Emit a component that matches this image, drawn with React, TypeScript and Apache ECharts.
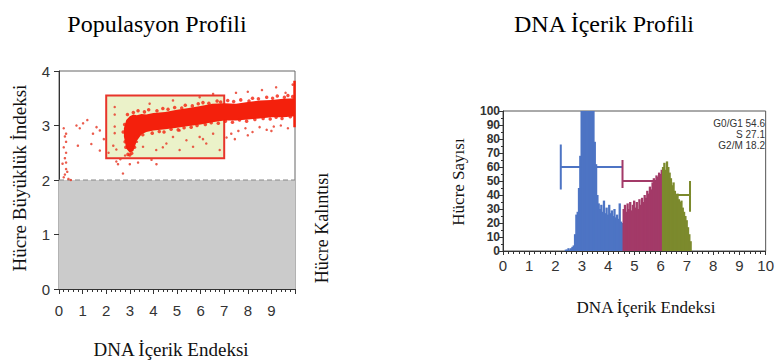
import React, { useEffect, useRef } from "react";
import * as echarts from "echarts";

// ---------- Texts ----------
const TITLE_LEFT = "Populasyon Profili";
const TITLE_RIGHT = "DNA İçerik Profili";
const X_NAME = "DNA İçerik Endeksi";
const Y_NAME_LEFT = "Hücre Büyüklük İndeksi";
const Y_NAME_RIGHT = "Hücre Sayısı";
const DEBRIS_LABEL = "Hücre Kalıntısı";
const PHASE_LABELS = ["G0/G1 54.6", "S 27.1", "G2/M 18.2"];

// ---------- Left panel (population scatter) ----------
const debrisX = [0, 10];
const debrisY = [0, 2];
const gateX = [2, 7];
const gateY = [2.4, 3.55];

// dense cell band: x, upper edge, lower edge
const bandX = [2.75, 2.85, 3.0, 3.15, 3.3, 3.5, 3.7, 4.0, 4.5, 5.0, 5.5, 6.0, 6.5, 7.0, 7.5, 8.0, 8.5, 9.0, 9.5, 10];
const bandTop = [2.95, 3.1, 3.17, 3.2, 3.19, 3.21, 3.2, 3.23, 3.25, 3.29, 3.32, 3.36, 3.4, 3.41, 3.4, 3.43, 3.46, 3.47, 3.49, 3.5];
const bandBot = [2.8, 2.58, 2.5, 2.53, 2.72, 2.84, 2.88, 2.91, 2.93, 2.96, 2.99, 3.02, 3.06, 3.09, 3.09, 3.11, 3.13, 3.15, 3.15, 3.17];

// ragged edge points of the band
const fuzzX = [2.9, 3.15, 3.35, 3.62, 3.8, 4.15, 4.4, 4.62, 4.9, 5.2, 5.35, 5.65, 5.9, 6.1, 6.35, 6.7, 6.85, 7.15, 7.4, 7.7, 8.05, 8.2, 8.45, 8.8, 9.05, 9.25, 9.55, 9.7, 9.9,
  3.25, 3.55, 3.95, 4.25, 4.45, 4.75, 5.05, 5.3, 5.6, 5.85, 6.2, 6.45, 6.75, 7.05, 7.35, 7.65, 7.95, 8.3, 8.65, 8.95, 9.2, 9.45, 9.8, 2.92, 3.08, 2.83, 2.72, 2.78, 3.0, 3.2, 2.8];
const fuzzY = [3.2, 3.24, 3.27, 3.25, 3.29, 3.27, 3.31, 3.3, 3.33, 3.32, 3.37, 3.36, 3.4, 3.42, 3.41, 3.45, 3.43, 3.46, 3.44, 3.47, 3.45, 3.5, 3.49, 3.52, 3.5, 3.54, 3.52, 3.55, 3.53,
  2.79, 2.83, 2.86, 2.89, 2.88, 2.93, 2.92, 2.96, 2.97, 3.0, 3.02, 3.05, 3.04, 3.08, 3.06, 3.1, 3.08, 3.11, 3.13, 3.12, 3.15, 3.13, 3.16, 2.47, 2.49, 2.6, 2.88, 3.02, 2.46, 2.6, 2.7];

// sparse events
const sparseX = [0.2, 0.25, 0.3, 0.15, 0.25, 0.3, 0.2, 0.3, 0.25, 0.3, 0.2, 0.35, 0.4, 0.5, 0.3,
  0.74, 1.02, 0.88, 1.59, 1.44, 1.73, 1.37, 0.8, 1.73, 2.3, 2.5, 3.0, 3.35, 4.13, 2.36, 2.36, 2.36, 2.43, 2.71, 1.2, 1.9, 2.1, 2.6, 2.8,
  3.56, 4.12, 4.55, 4.83, 5.11, 5.4, 5.68, 5.96, 6.24, 6.53, 6.81, 3.92, 2.43, 5.11, 3.3, 4.4, 6.1,
  2.36, 3.84, 4.83, 5.96, 6.53,
  7.3, 7.6, 7.9, 8.2, 8.5, 8.8, 9.1, 9.4, 9.7, 7.1, 7.45, 8.0, 9.0,
  7.5, 8.0, 8.6, 9.2, 9.6, 9.9];
const sparseY = [2.05, 2.1, 2.2, 2.3, 2.4, 2.5, 2.6, 2.7, 2.8, 2.85, 2.95, 2.15, 2.02, 2.0, 2.32,
  3.0, 3.04, 2.95, 2.97, 2.85, 2.91, 2.66, 2.63, 2.54, 2.63, 2.29, 2.29, 2.32, 2.29, 3.2, 2.98, 2.86, 2.56, 2.12, 3.1, 2.75, 2.5, 2.38, 2.45,
  2.61, 2.55, 2.67, 2.79, 2.55, 2.73, 2.61, 2.79, 2.67, 2.85, 2.55, 2.37, 2.34, 2.91, 2.7, 2.6, 2.75,
  3.34, 3.4, 3.46, 3.52, 3.58,
  2.85, 2.9, 2.95, 2.88, 2.97, 2.92, 2.98, 3.0, 2.95, 2.78, 2.75, 2.82, 2.9,
  3.6, 3.62, 3.65, 3.7, 3.6, 3.75];

// events piled on the right edge
const edgeX = [9.98, 9.98];
const edgeY = [2.97, 3.82];

// ---------- Right panel (DNA histogram) ----------
const BIN = 0.05;
const g1Start = 2.35;
const g1Counts = [1, 1, 2, 1, 2, 3, 4, 12, 26, 28, 45, 68, 100, 100, 100, 100, 100, 100, 100, 100, 100, 100, 78, 62, 40, 34, 30, 33, 28, 36, 27, 31, 26, 33, 27, 29, 25, 30, 24, 26, 23, 34, 21, 20];
const sStart = 4.55;
const sCounts = [30, 33, 28, 34, 30, 35, 29, 33, 36, 31, 35, 30, 37, 33, 38, 35, 40, 38, 43, 41, 46, 44, 49, 52, 50, 54, 53, 56, 55, 58];
const g2Start = 6.05;
const g2Counts = [60, 63, 58, 64, 60, 56, 52, 47, 49, 43, 40, 41, 37, 35, 36, 31, 28, 25, 22, 17, 12, 7];

// phase markers (polyline vertices)
const g1Marker = [[2.2, 44], [2.2, 76], [2.2, 60], [4.55, 60]];
const sMarker = [[4.55, 65], [4.55, 45], [4.55, 50], [6.0, 50]];
const g2Marker = [[6.05, 40], [7.12, 40], [7.12, 50], [7.12, 28]];

const C_G1 = "#4d74c4";
const C_S = "#a33a68";
const C_G2 = "#7c8a2d";
const RED = "#f4200c";

const SANS = "'Liberation Sans', Arial, sans-serif";
const SERIF = "'Liberation Serif', 'Times New Roman', serif";

function histData(start: number, counts: number[]) {
  return counts.map((c, i) => [start + i * BIN, c]);
}

function histSeries(start: number, counts: number[], color: string) {
  return {
    type: "custom",
    xAxisIndex: 1,
    yAxisIndex: 1,
    z: 5,
    silent: true,
    encode: { x: 0, y: 1 },
    data: histData(start, counts),
    renderItem: (params: any, api: any) => {
      const x = api.value(0);
      const y = api.value(1);
      const p0 = api.coord([x, 0]);
      const p1 = api.coord([x + BIN, y]);
      return {
        type: "rect",
        shape: { x: p0[0], y: p1[1], width: p1[0] - p0[0] + 1, height: p0[1] - p1[1] },
        style: { fill: color },
      };
    },
  };
}

function rectSeries(xs: number[], ys: number[], style: any, z: number) {
  return {
    type: "custom",
    xAxisIndex: 0,
    yAxisIndex: 0,
    z,
    silent: true,
    data: [[xs[0], ys[0], xs[1], ys[1]]],
    encode: { x: [0, 2], y: [1, 3] },
    renderItem: (params: any, api: any) => {
      const p0 = api.coord([api.value(0), api.value(1)]);
      const p1 = api.coord([api.value(2), api.value(3)]);
      return {
        type: "rect",
        shape: { x: p0[0], y: p1[1], width: p1[0] - p0[0], height: p0[1] - p1[1] },
        style,
      };
    },
  };
}

export default function App() {
  const ref = useRef<HTMLDivElement>(null);

  useEffect(() => {
    if (!ref.current) return;
    const chart = echarts.init(ref.current, undefined, { renderer: "svg" });

    const axisLabelStyle = { color: "#333", fontFamily: SANS, fontSize: 15 };

    const option: any = {
      animation: false,
      backgroundColor: "#ffffff",
      grid: [
        { left: 59, top: 71, width: 236, height: 218, show: true, borderColor: "#666", borderWidth: 1, backgroundColor: "transparent" },
        { left: 503, top: 111, width: 266, height: 140, show: true, borderColor: "#555", borderWidth: 1, backgroundColor: "transparent" },
      ],
      xAxis: [
        {
          gridIndex: 0, type: "value", min: 0, max: 10, interval: 1, offset: 5,
          axisLine: { show: true, lineStyle: { color: "#333", width: 1 } },
          axisTick: { show: true, length: 5, lineStyle: { color: "#333" } },
          minorTick: { show: true, splitNumber: 5, length: 3, lineStyle: { color: "#333" } },
          splitLine: { show: false },
          axisLabel: { ...axisLabelStyle, margin: 9, formatter: (v: number) => (v === 10 ? "" : String(v)) },
        },
        {
          gridIndex: 1, type: "value", min: 0, max: 10, interval: 1, offset: 2,
          axisLine: { show: true, lineStyle: { color: "#333", width: 1 } },
          axisTick: { show: true, length: 4, lineStyle: { color: "#333" } },
          minorTick: { show: true, splitNumber: 5, length: 3, lineStyle: { color: "#333" } },
          splitLine: { show: false },
          axisLabel: { ...axisLabelStyle, margin: 5 },
        },
      ],
      yAxis: [
        {
          gridIndex: 0, type: "value", min: 0, max: 4, interval: 1,
          axisLine: { show: true, lineStyle: { color: "#333", width: 1 } },
          axisTick: { show: true, length: 5, lineStyle: { color: "#333" } },
          splitLine: { show: false },
          axisLabel: { ...axisLabelStyle, margin: 9 },
        },
        {
          gridIndex: 1, type: "value", min: 0, max: 100, interval: 10,
          axisLine: { show: true, lineStyle: { color: "#333", width: 1 } },
          axisTick: { show: true, length: 4, lineStyle: { color: "#333" } },
          minorTick: { show: true, splitNumber: 2, length: 2, lineStyle: { color: "#333" } },
          splitLine: { show: false },
          axisLabel: {
            color: "#333", fontFamily: SANS, fontSize: 12, fontWeight: "bold", lineHeight: 12,
            margin: 3, showMinLabel: true, showMaxLabel: true, hideOverlap: false,
          },
        },
      ],
      graphic: [
        { type: "text", x: 157, y: 24, style: { text: TITLE_LEFT, font: `24px ${SERIF}`, fill: "#000", textAlign: "center", textVerticalAlign: "middle" } },
        { type: "text", x: 604, y: 24, style: { text: TITLE_RIGHT, font: `24px ${SERIF}`, fill: "#000", textAlign: "center", textVerticalAlign: "middle" } },
        { type: "text", x: 171, y: 349, style: { text: X_NAME, font: `19px ${SERIF}`, fill: "#111", textAlign: "center", textVerticalAlign: "middle" } },
        { type: "text", x: 646, y: 307, style: { text: X_NAME, font: `17px ${SERIF}`, fill: "#111", textAlign: "center", textVerticalAlign: "middle" } },
        { type: "text", x: 19, y: 178, rotation: Math.PI / 2, style: { text: Y_NAME_LEFT, font: `19px ${SERIF}`, fill: "#111", textAlign: "center", textVerticalAlign: "middle" } },
        { type: "text", x: 322, y: 228, rotation: Math.PI / 2, style: { text: DEBRIS_LABEL, font: `18px ${SERIF}`, fill: "#111", textAlign: "center", textVerticalAlign: "middle" } },
        { type: "text", x: 458, y: 182, rotation: Math.PI / 2, style: { text: Y_NAME_RIGHT, font: `17px ${SERIF}`, fill: "#111", textAlign: "center", textVerticalAlign: "middle" } },
        ...PHASE_LABELS.map((t, i) => ({
          type: "text", x: 765, y: 123 + i * 11,
          style: { text: t, font: `10px ${SANS}`, fill: "#333", textAlign: "right", textVerticalAlign: "middle" },
        })),
      ],
      series: [
        rectSeries(debrisX, debrisY, { fill: "#cbcbcb" }, 1),
        {
          type: "line", xAxisIndex: 0, yAxisIndex: 0, z: 2, silent: true, symbol: "none",
          data: [[0, 2], [10, 2]],
          lineStyle: { color: "#888", width: 1.2, type: [5, 3] },
        },
        rectSeries(gateX, gateY, { fill: "#ebf2c9", stroke: "#e8352b", lineWidth: 2 }, 3),
        {
          type: "scatter", xAxisIndex: 0, yAxisIndex: 0, z: 4, silent: true, symbolSize: 2.5,
          itemStyle: { color: "#e8402e", opacity: 0.85 },
          data: sparseX.map((x, i) => [x, sparseY[i]]),
        },
        {
          type: "custom", xAxisIndex: 0, yAxisIndex: 0, z: 5, silent: true,
          data: [[bandX[0], bandTop[0]]],
          encode: { x: 0, y: 1 },
          renderItem: (params: any, api: any) => {
            const pts: number[][] = [];
            bandX.forEach((x, i) => pts.push(api.coord([x, bandTop[i]])));
            for (let i = bandX.length - 1; i >= 0; i--) pts.push(api.coord([bandX[i], bandBot[i]]));
            return { type: "polygon", shape: { points: pts }, style: { fill: RED } };
          },
        },
        {
          type: "scatter", xAxisIndex: 0, yAxisIndex: 0, z: 6, silent: true, symbolSize: 3.5,
          itemStyle: { color: RED },
          data: fuzzX.map((x, i) => [x, fuzzY[i]]),
        },
        {
          type: "line", xAxisIndex: 0, yAxisIndex: 0, z: 6, silent: true, symbol: "none",
          data: edgeX.map((x, i) => [x, edgeY[i]]),
          lineStyle: { color: RED, width: 2.5 },
        },
        // phase markers
        ...[
          [g1Marker, C_G1],
          [sMarker, C_S],
          [g2Marker, C_G2],
        ].map(([d, c]) => ({
          type: "line", xAxisIndex: 1, yAxisIndex: 1, z: 3, silent: true, symbol: "none",
          data: d, lineStyle: { color: c, width: 2 },
        })),
        histSeries(g1Start, g1Counts, C_G1),
        histSeries(sStart, sCounts, C_S),
        histSeries(g2Start, g2Counts, C_G2),
      ],
    };

    chart.setOption(option);
    return () => chart.dispose();
  }, []);

  return (
    <div
      ref={ref}
      style={{ position: "absolute", left: 0, top: 0, width: 777, height: 360, background: "#fff" }}
    />
  );
}
